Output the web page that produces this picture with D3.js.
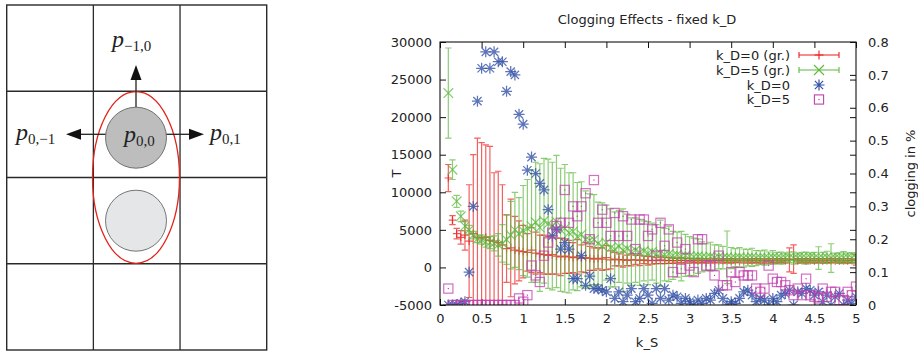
<!DOCTYPE html>
<html>
<head>
<meta charset="utf-8">
<script src="https://cdn.jsdelivr.net/npm/d3@7"></script>
<style>
  body { margin: 0; background: #fff; }
  svg { display: block; }
  text { font-family: "DejaVu Sans", sans-serif; fill: #222; }
</style>
</head>
<body>
<svg id="chart" width="918" height="353"></svg>
<script>
// k_S grid (x values)
const kS = [
  0.10, 0.15, 0.20, 0.25, 0.30, 0.35, 0.40, 0.45, 0.50, 0.55,
  0.60, 0.65, 0.70, 0.75, 0.80, 0.85, 0.90, 0.95, 1.00, 1.05,
  1.10, 1.15, 1.20, 1.25, 1.30, 1.35, 1.40, 1.45, 1.50, 1.55,
  1.60, 1.65, 1.70, 1.75, 1.80, 1.85, 1.90, 1.95, 2.00, 2.05,
  2.10, 2.15, 2.20, 2.25, 2.30, 2.35, 2.40, 2.45, 2.50, 2.55,
  2.60, 2.65, 2.70, 2.75, 2.80, 2.85, 2.90, 2.95, 3.00, 3.05,
  3.10, 3.15, 3.20, 3.25, 3.30, 3.35, 3.40, 3.45, 3.50, 3.55,
  3.60, 3.65, 3.70, 3.75, 3.80, 3.85, 3.90, 3.95, 4.00, 4.05,
  4.10, 4.15, 4.20, 4.25, 4.30, 4.35, 4.40, 4.45, 4.50, 4.55,
  4.60, 4.65, 4.70, 4.75, 4.80, 4.85, 4.90, 4.95, 5.00
];

// k_D=0 (gr.) : T and error
const redT = [
  11900, 6300, 4500, 4000, 4300, 3500, 4500, 4000, 3800, 4000,
  3600, 3500, 3300, 3000, 2500, 2600, 2300, 2200, 2100, 2000,
  2300, 1900, 1800, 1700, 1600, 1700, 1500, 1400, 1500, 1400,
  1300, 1400, 1200, 1300, 1200, 1100, 1200, 1100, 1300, 1000,
  1100, 1000, 1050, 950, 1000, 1000, 950, 1000, 900, 950,
  900, 1000, 900, 950, 900, 900, 950, 900, 880, 900,
  870, 900, 880, 860, 900, 870, 880, 900, 860, 880,
  870, 890, 860, 880, 900, 870, 860, 880, 900, 870,
  880, 860, 1000, 1100, 870, 880, 860, 900, 870, 880,
  860, 880, 900, 870, 860, 880, 870, 900, 1000
];
const redErr = [
  1800, 600, 700, 900, 2000, 7500, 10500, 13200, 12800, 12300,
  12500, 9100, 9500, 8000, 4500, 6500, 4500, 4000, 3500, 2500,
  3000, 2800, 2500, 2600, 2500, 2600, 2400, 2500, 2300, 2200,
  2000, 2300, 1800, 2000, 1600, 1500, 1400, 1500, 1600, 1200,
  900, 800, 1000, 700, 800, 600, 700, 500, 600, 500,
  400, 500, 400, 400, 350, 300, 350, 300, 300, 250,
  300, 250, 300, 250, 300, 250, 300, 250, 300, 250,
  250, 300, 250, 300, 250, 300, 250, 300, 250, 300,
  250, 300, 1600, 1900, 300, 250, 300, 250, 300, 250,
  300, 250, 300, 250, 300, 250, 300, 250, 700
];

// k_D=5 (gr.) : T and error
const greenT = [
  23200, 13000, 8800, 6800, 5500, 5000, 4300, 3800, 3700, 3400,
  3300, 3200, 3000, 3200, 3700, 4300, 5000, 4500, 4900, 5200,
  5500, 6000, 5300, 6200, 5800, 5500, 6100, 5000, 5200, 4600,
  4800, 4100, 4400, 3700, 3600, 3700, 3200, 2800, 3300, 2600,
  2400, 2800, 2300, 2500, 2100, 2300, 2000, 2200, 1900, 2100,
  1800, 1900, 1700, 1800, 1600, 1700, 1500, 1600, 1500, 1400,
  1500, 1400, 1350, 1450, 1300, 1400, 1300, 1350, 1250, 1300,
  1350, 1250, 1300, 1350, 1250, 1300, 1300, 1250, 1350, 1300,
  1250, 1300, 1350, 1250, 1300, 1300, 1250, 1350, 1300, 1250,
  1300, 1350, 1250, 1300, 1250, 1300, 1350, 1250, 1300
];
const greenErr = [
  6000, 1300, 800, 700, 600, 600, 500, 500, 600, 700,
  800, 1000, 1500, 2500, 3300, 4500, 5000, 4800, 6000, 6500,
  7500, 8000, 8500, 8300, 8600, 8500, 8800, 8200, 8500, 8000,
  7800, 7200, 7000, 6500, 6200, 6000, 5500, 5800, 5000, 5200,
  5000, 4800, 5500, 4600, 4500, 4300, 4400, 4000, 4200, 3800,
  3900, 4400, 3500, 3700, 3200, 3000, 3300, 2800, 2600, 2500,
  2300, 2000, 1800, 1900, 1700, 1600, 1500, 3500, 1400, 1200,
  1300, 1200, 1100, 1200, 1000, 900, 1000, 800, 900, 700,
  800, 600, 700, 800, 600, 700, 800, 600, 700, 1500,
  700, 800, 1900, 600, 700, 800, 600, 700, 600
];

// clogging fraction (right axis)
const blueClog = [
  0, 0, 0, 0.005, 0.01, 0.10, 0.30, 0.62, 0.72, 0.77,
  0.72, 0.77, 0.74, 0.74, 0.65, 0.71, 0.70, 0.58, 0.55, 0.41,
  0.45, 0.40, 0.37, 0.35, 0.29, 0.21, 0.23, 0.17, 0.19, 0.17,
  0.08, 0.08, 0.15, 0.06, 0.088, 0.05, 0.05, 0.045, 0.04, 0.08,
  0.02, 0.04, 0.01, 0.03, 0.05, 0.01, 0.02, 0.05, 0.03, 0.005,
  0.05, 0.02, 0.05, 0.015, 0.03, 0.025, 0.005, 0.02, 0.01, 0,
  0.015, 0.005, 0.02, 0.015, 0.035, 0.045, 0.02, 0, 0.01, 0.005,
  0.02, 0.04, 0.045, 0.03, 0.01, 0.02, 0.015, 0, 0.02, 0.01,
  0.03, 0.035, 0.045, 0, 0.04, 0.035, 0.05, 0.045, 0.03, 0.04,
  0.01, 0.03, 0, 0.025, 0.035, 0, 0.015, 0.005, 0.025
];
const pinkClog = [
  0.05, 0, 0, 0, 0, 0, 0, 0, 0, 0,
  0, 0, 0, 0, 0, 0, 0, 0.02, 0.01, 0.03,
  0.12, 0.09, 0.07, 0.15, 0.19, 0.22, 0.24, 0.25, 0.35, 0.25,
  0.30, 0.27, 0.30, 0.34, 0.20, 0.38, 0.25, 0.29, 0.25, 0.21,
  0.28, 0.21, 0.27, 0.21, 0.26, 0.17, 0.26, 0.26, 0.21, 0.23,
  0.15, 0.25, 0.18, 0.23, 0.10, 0.19, 0.11, 0.17, 0.12, 0.10,
  0.20, 0.20, 0.12, 0.12, 0.09, 0.15, 0.06, 0.06, 0.10, 0.07,
  0.10, 0.09, 0.09, 0.09, 0.05, 0.04, 0.05, 0.12, 0.08, 0.07,
  0.07, 0.06, 0.045, 0.03, 0.05, 0.03, 0.08, 0.03, 0.025, 0.02,
  0.05, 0.025, 0.04, 0.04, 0.015, 0.015, 0.04, 0.03, 0.056
];

const xTicks = [0, 0.5, 1, 1.5, 2, 2.5, 3, 3.5, 4, 4.5, 5];
const yTicks = [-5000, 0, 5000, 10000, 15000, 20000, 25000, 30000];
const y2Ticks = [0, 0.1, 0.2, 0.3, 0.4, 0.5, 0.6, 0.7, 0.8];
const legendLabels = ["k_D=0 (gr.)", "k_D=5 (gr.)", "k_D=0", "k_D=5"];

const RED = "#ee1c1c", GREEN = "#5cb83c", BLUE = "#3452a6", PINK = "#c23fae";
const FS = "13px";

const svg = d3.select("#chart");

// ---------- left diagram: grid cells, particles, arrows ----------
const diag = svg.append("g");
const gx = d3.scaleLinear().domain([0, 3]).range([6.7, 266.7]);
const gy = d3.scaleLinear().domain([0, 4]).range([5, 350]);

diag.append("rect")
  .attr("x", gx(0)).attr("y", gy(0))
  .attr("width", gx(3) - gx(0)).attr("height", gy(4) - gy(0))
  .attr("fill", "none").attr("stroke", "#2a2a2a").attr("stroke-width", 1.4);
[1, 2].forEach(c => diag.append("line")
  .attr("x1", gx(c)).attr("x2", gx(c)).attr("y1", gy(0)).attr("y2", gy(4))
  .attr("stroke", "#2a2a2a").attr("stroke-width", 1.3));
[1, 2, 3].forEach(r => diag.append("line")
  .attr("x1", gx(0)).attr("x2", gx(3)).attr("y1", gy(r)).attr("y2", gy(r))
  .attr("stroke", "#2a2a2a").attr("stroke-width", 1.3));

const cx = 136;
diag.append("ellipse")
  .attr("cx", cx).attr("cy", 177.5).attr("rx", 43.5).attr("ry", 85.8)
  .attr("fill", "none").attr("stroke", "#e2231a").attr("stroke-width", 1.3);
diag.append("circle").attr("cx", cx).attr("cy", 220.7).attr("r", 30.5)
  .attr("fill", "#e5e6e8").attr("stroke", "#555").attr("stroke-width", 0.8);
diag.append("circle").attr("cx", cx).attr("cy", 137.7).attr("r", 30.5)
  .attr("fill", "#bdbdbd").attr("stroke", "#555").attr("stroke-width", 0.8);

function arrow(x1, y1, x2, y2) {
  const a = Math.atan2(y2 - y1, x2 - x1);
  const L = 15, W = 5.5;
  const bx = x2 - L * Math.cos(a), by = y2 - L * Math.sin(a);
  diag.append("line").attr("x1", x1).attr("y1", y1).attr("x2", bx).attr("y2", by)
    .attr("stroke", "#222").attr("stroke-width", 1.3);
  diag.append("path")
    .attr("d", `M${x2},${y2}L${bx - W * Math.sin(a)},${by + W * Math.cos(a)}L${bx + W * Math.sin(a)},${by - W * Math.cos(a)}Z`)
    .attr("fill", "#111");
}
arrow(cx, 107, cx, 65);
arrow(105.5, 134.3, 66, 134.3);
arrow(166.5, 134.3, 204, 134.3);

function pLabel(x, y, sub) {
  const t = diag.append("text").attr("x", x).attr("y", y)
    .style("font-family", "'Liberation Serif', 'DejaVu Serif', serif").style("fill", "#222");
  t.append("tspan").text("p").style("font-style", "italic").style("font-size", "24px");
  t.append("tspan").text(sub).attr("dy", 4).style("font-size", "15px");
}
pLabel(112, 47, "\u22121,0");
pLabel(16, 140, "0,\u22121");
pLabel(124, 142, "0,0");
pLabel(210, 140, "0,1");

// ---------- right chart ----------
const x = d3.scaleLinear().domain([0, 5]).range([440, 856]);
const y = d3.scaleLinear().domain([-5000, 30000]).range([305, 42]);
const y2 = d3.scaleLinear().domain([0, 0.8]).range([305, 42]);

const fmt = d => String(d);

svg.append("g").attr("transform", `translate(0,${y(-5000)})`)
  .call(d3.axisBottom(x).tickValues(xTicks).tickFormat(fmt).tickSizeInner(-6).tickSizeOuter(0).tickPadding(9))
  .call(g => g.select(".domain").remove());
svg.append("g").attr("transform", `translate(0,${y(30000)})`)
  .call(d3.axisTop(x).tickValues(xTicks).tickFormat("").tickSizeInner(-6).tickSizeOuter(0))
  .call(g => g.select(".domain").remove());
svg.append("g").attr("transform", `translate(${x(0)},0)`)
  .call(d3.axisLeft(y).tickValues(yTicks).tickFormat(fmt).tickSizeInner(-6).tickSizeOuter(0).tickPadding(8))
  .call(g => g.select(".domain").remove());
svg.append("g").attr("transform", `translate(${x(5)},0)`)
  .call(d3.axisRight(y).tickValues(yTicks).tickFormat("").tickSizeInner(-6).tickSizeOuter(0))
  .call(g => g.select(".domain").remove());
svg.append("g").attr("transform", `translate(${x(5)},0)`)
  .call(d3.axisRight(y2).tickValues(y2Ticks).tickFormat(d => d === 0 ? "0" : d3.format(".1f")(d)).tickSizeInner(-6).tickSizeOuter(0).tickPadding(12))
  .call(g => g.select(".domain").remove());

svg.selectAll(".tick text").style("font-family", "'DejaVu Sans', sans-serif").style("font-size", FS).style("fill", "#222");
svg.selectAll(".tick line").attr("stroke", "#111");

// clip
svg.append("clipPath").attr("id", "plotclip").append("rect")
  .attr("x", x(0)).attr("y", y(30000)).attr("width", x(5) - x(0)).attr("height", y(-5000) - y(30000));
const plot = svg.append("g").attr("clip-path", "url(#plotclip)");

const symPlus = r => `M${-r},0H${r}M0,${-r}V${r}`;
const symCross = r => `M${-r},${-r}L${r},${r}M${-r},${r}L${r},${-r}`;
const symStar = r => symPlus(r) + symCross(r * 0.75);

function errSeries(vals, errs, color, sym) {
  const g = plot.append("g").attr("stroke", color).attr("stroke-width", 1.2).attr("fill", "none");
  const cap = 3.2;
  kS.forEach((k, i) => {
    const px = x(k), lo = y(vals[i] - errs[i]), hi = y(vals[i] + errs[i]);
    g.append("path")
      .attr("d", `M${px},${lo}V${hi}M${px - cap},${lo}H${px + cap}M${px - cap},${hi}H${px + cap}`)
      .attr("stroke-opacity", 0.7);
    g.append("path").attr("transform", `translate(${px},${y(vals[i])})`).attr("d", sym)
      .attr("stroke-opacity", 0.75);
  });
}
errSeries(redT, redErr, RED, symPlus(3.8));
errSeries(greenT, greenErr, GREEN, symCross(4.8));

const blueG = plot.append("g").attr("stroke", BLUE).attr("stroke-width", 1.25).attr("fill", "none");
blueG.selectAll("path").data(blueClog).join("path")
  .attr("transform", (d, i) => `translate(${x(kS[i])},${y2(d)})`)
  .attr("d", symStar(5.5)).attr("stroke-opacity", 0.8);

const pinkG = plot.append("g").attr("stroke", PINK).attr("stroke-width", 1.2).attr("fill", "none");
pinkG.selectAll("g").data(pinkClog).join("g")
  .attr("transform", (d, i) => `translate(${x(kS[i])},${y2(d)})`)
  .each(function () {
    const s = d3.select(this);
    s.append("rect").attr("x", -4.6).attr("y", -4.6).attr("width", 9.2).attr("height", 9.2).attr("stroke-opacity", 0.75);
    s.append("rect").attr("x", -0.6).attr("y", -0.6).attr("width", 1.2).attr("height", 1.2).attr("fill", PINK).attr("stroke", "none");
  });

// frame
svg.append("rect")
  .attr("x", x(0)).attr("y", y(30000)).attr("width", x(5) - x(0)).attr("height", y(-5000) - y(30000))
  .attr("fill", "none").attr("stroke", "#111").attr("stroke-width", 1.1);

// titles
svg.append("text").attr("x", 647).attr("y", 24).attr("text-anchor", "middle")
  .style("font-size", FS).text("Clogging Effects - fixed k_D");
svg.append("text").attr("x", 647).attr("y", 347).attr("text-anchor", "middle")
  .style("font-size", FS).text("k_S");
svg.append("text").attr("transform", "translate(401,173.5) rotate(-90)").attr("text-anchor", "middle")
  .style("font-size", FS).text("T");
svg.append("text").attr("transform", "translate(915,173.5) rotate(-90)").attr("text-anchor", "middle")
  .style("font-size", FS).text("clogging in %");

// legend
const legY = [55, 70, 85, 99.5];
const legColors = [RED, GREEN, BLUE, PINK];
const lg = svg.append("g");
legendLabels.forEach((lab, i) => {
  lg.append("text").attr("x", 790).attr("y", legY[i]).attr("dy", "0.35em")
    .attr("text-anchor", "end").style("font-size", FS).text(lab);
  const c = legColors[i], yy = legY[i], mx = 819;
  if (i < 2) {
    lg.append("path").attr("d", `M799,${yy}H839M799,${yy - 3}V${yy + 3}M839,${yy - 3}V${yy + 3}`)
      .attr("stroke", c).attr("stroke-width", 1.1).attr("fill", "none");
    lg.append("path").attr("transform", `translate(${mx},${yy})`)
      .attr("d", i === 0 ? symPlus(4.5) : symCross(5)).attr("stroke", c).attr("stroke-width", 1.1).attr("fill", "none");
  } else if (i === 2) {
    lg.append("path").attr("transform", `translate(${mx},${yy})`).attr("d", symStar(5.5))
      .attr("stroke", c).attr("stroke-width", 1.2).attr("fill", "none");
  } else {
    lg.append("rect").attr("x", mx - 4.6).attr("y", yy - 4.6).attr("width", 9.2).attr("height", 9.2)
      .attr("stroke", c).attr("stroke-width", 1.1).attr("fill", "none");
    lg.append("rect").attr("x", mx - 0.6).attr("y", yy - 0.6).attr("width", 1.2).attr("height", 1.2).attr("fill", c);
  }
});
</script>
</body>
</html>
